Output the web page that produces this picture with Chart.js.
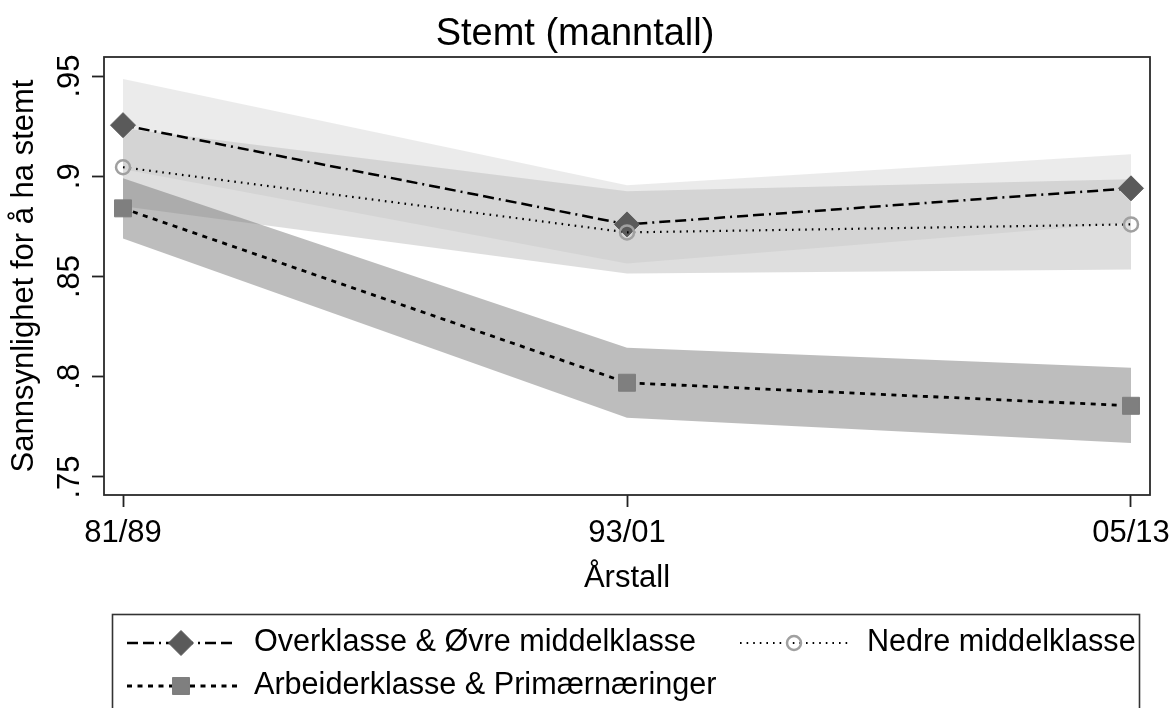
<!DOCTYPE html>
<html>
<head>
<meta charset="utf-8">
<script src="https://cdn.jsdelivr.net/npm/chart.js@4.4.0/dist/chart.umd.min.js"></script>
<style>
  html, body { margin: 0; padding: 0; background: #fff; overflow: hidden; }
  #wrap { position: relative; width: 1172px; height: 708px; }
</style>
</head>
<body>
<div id="wrap"><canvas id="chart" width="1172" height="708"></canvas></div>
<script>
// data
const periods = ['81/89', '93/01', '05/13'];
const yTicks = [0.75, 0.8, 0.85, 0.9, 0.95];
const yTickLabels = ['.75', '.8', '.85', '.9', '.95'];

const overklasse   = [0.9255, 0.876, 0.894];
const overklasseLo = [0.9035, 0.8565, 0.877];
const overklasseHi = [0.9485, 0.8955, 0.911];

const nedre   = [0.9045, 0.872, 0.876];
const nedreLo = [0.885, 0.8515, 0.8535];
const nedreHi = [0.924, 0.8925, 0.8985];

const arbeider   = [0.884, 0.797, 0.7855];
const arbeiderLo = [0.869, 0.7795, 0.767];
const arbeiderHi = [0.899, 0.8145, 0.8045];

const FONT = "'Liberation Sans', Arial, sans-serif";
const font31 = { family: FONT, size: 31 };

const pts = arr => arr.map((v, i) => ({ x: i, y: v }));

const band = (hi, lo, color) => ([
  { data: pts(hi), fill: '+1', backgroundColor: color, borderColor: 'transparent', borderWidth: 0, pointRadius: 0 },
  { data: pts(lo), fill: false, borderColor: 'transparent', borderWidth: 0, pointRadius: 0 },
]);

// frame round the plot region
const frame = {
  id: 'frame',
  afterDatasetsDraw(chart) {
    const { left, top, right, bottom } = chart.chartArea;
    const ctx = chart.ctx;
    ctx.save();
    ctx.strokeStyle = '#2a2a2a';
    ctx.lineWidth = 1.8;
    ctx.strokeRect(left, top, right - left, bottom - top);
    ctx.restore();
  }
};

// legend box under the chart (cut off at the bottom like the original)
const legendBox = {
  id: 'legendBox',
  afterDraw(chart) {
    const ctx = chart.ctx;
    ctx.save();
    ctx.strokeStyle = '#333';
    ctx.lineWidth = 1.6;
    ctx.strokeRect(112.5, 614.5, 1027, 130);
    const items = [
      { ds: 1, x: 127, y: 643, label: 'Overklasse & Øvre middelklasse' },
      { ds: 0, x: 740, y: 643, label: 'Nedre middelklasse' },
      { ds: 2, x: 127, y: 686, label: 'Arbeiderklasse & Primærnæringer' },
    ];
    items.forEach(it => {
      const d = chart.data.datasets[it.ds];
      ctx.save();
      ctx.strokeStyle = d.borderColor;
      ctx.lineWidth = d.borderWidth;
      ctx.setLineDash(d.borderDash);
      ctx.beginPath();
      ctx.moveTo(it.x, it.y);
      ctx.lineTo(it.x + 110, it.y);
      ctx.stroke();
      ctx.restore();

      ctx.save();
      ctx.fillStyle = d.pointBackgroundColor;
      ctx.strokeStyle = d.pointBorderColor;
      ctx.lineWidth = d.pointBorderWidth;
      Chart.helpers.drawPoint(ctx, {
        pointStyle: d.pointStyle, radius: d.pointRadius, rotation: 0, borderWidth: d.pointBorderWidth
      }, it.x + 54, it.y);
      ctx.restore();

      ctx.fillStyle = '#000';
      ctx.font = `30.6px ${FONT}`;
      ctx.textBaseline = 'middle';
      ctx.textAlign = 'left';
      ctx.fillText(it.label, it.x + 127, it.y);
    });
    ctx.restore();
  }
};

new Chart(document.getElementById('chart'), {
  type: 'line',
  data: {
    datasets: [
      {
        label: 'Nedre middelklasse',
        data: pts(nedre),
        borderColor: '#000', borderWidth: 2.2, borderDash: [1.6, 5],
        pointStyle: 'circle', pointRadius: 7,
        pointBackgroundColor: 'rgba(0,0,0,0)', pointBorderColor: '#a0a0a0', pointBorderWidth: 2.5,
        fill: false
      },
      {
        label: 'Overklasse & Øvre middelklasse',
        data: pts(overklasse),
        borderColor: '#000', borderWidth: 2.5, borderDash: [11, 5, 11, 5, 2, 5],
        pointStyle: 'rectRot', pointRadius: 12.5,
        pointBackgroundColor: '#5a5a5a', pointBorderColor: '#5a5a5a', pointBorderWidth: 1,
        fill: false
      },
      {
        label: 'Arbeiderklasse & Primærnæringer',
        data: pts(arbeider),
        borderColor: '#000', borderWidth: 2.8, borderDash: [5, 5.5],
        pointStyle: 'rect', pointRadius: 12,
        pointBackgroundColor: '#7f7f7f', pointBorderColor: '#7f7f7f', pointBorderWidth: 1,
        fill: false
      },
      ...band(arbeiderHi, arbeiderLo, 'rgba(123,123,123,0.5)'),
      ...band(nedreHi, nedreLo, 'rgba(189,189,189,0.5)'),
      ...band(overklasseHi, overklasseLo, 'rgba(215,215,215,0.5)'),
    ]
  },
  options: {
    responsive: false,
    animation: false,
    devicePixelRatio: 1,
    events: [],
    layout: { padding: { left: 0, right: 22, top: 0, bottom: 103 }, autoPadding: false },
    plugins: {
      legend: { display: false },
      tooltip: { enabled: false },
      title: {
        display: true,
        text: 'Stemt (manntall)',
        color: '#000',
        font: { family: FONT, size: 38, weight: 'normal' },
        padding: { top: 11.4, bottom: 0 }
      }
    },
    scales: {
      x: {
        type: 'linear',
        min: -0.0377, max: 2.0377,
        afterBuildTicks: s => { s.ticks = periods.map((p, i) => ({ value: i })); },
        ticks: { callback: v => periods[v], font: font31, color: '#000', padding: 8, autoSkip: false, maxRotation: 0 },
        grid: { drawOnChartArea: false, drawTicks: true, tickLength: 12, tickColor: '#222', tickWidth: 1.8 },
        border: { display: false },
        title: { display: true, text: 'Årstall', font: font31, color: '#000', padding: { top: 0, bottom: 7.8 } },
        afterFit: s => { s.height = 110; s.paddingLeft = 0; s.paddingRight = 0; }
      },
      y: {
        type: 'linear',
        min: 0.741, max: 0.9595,
        afterBuildTicks: s => { s.ticks = yTicks.map(v => ({ value: v })); },
        ticks: {
          callback: v => yTickLabels[yTicks.indexOf(v)],
          minRotation: 90, maxRotation: 90, crossAlign: 'center',
          padding: 0, font: font31, color: '#000', autoSkip: false
        },
        grid: { drawOnChartArea: false, drawTicks: true, tickLength: 12, tickColor: '#222', tickWidth: 1.8 },
        border: { display: false },
        title: { display: true, text: 'Sannsynlighet for å ha stemt', font: font31, color: '#000', padding: { top: 6, bottom: 0 } },
        afterFit: s => { s.width = 104; s.paddingTop = 0; s.paddingBottom = 0; }
      }
    }
  },
  plugins: [frame, legendBox]
});
</script>
</body>
</html>
